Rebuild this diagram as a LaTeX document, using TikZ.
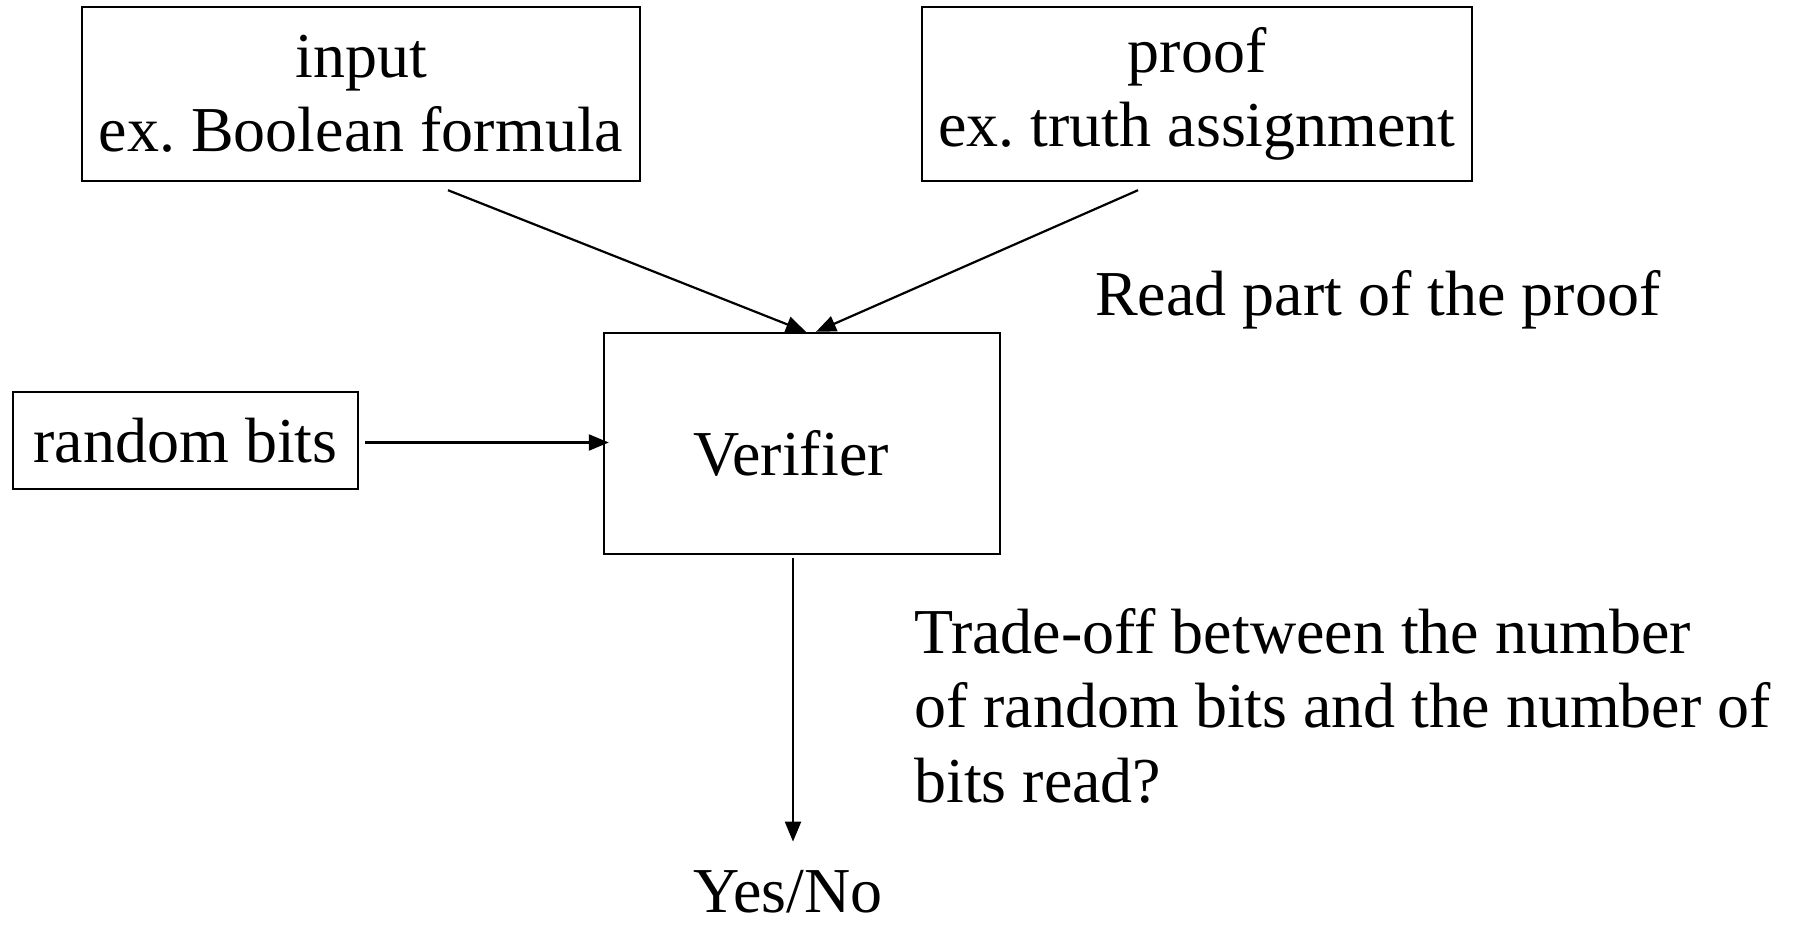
\documentclass[tikz,border=0pt]{standalone}
\usepackage{fontspec}
\setmainfont{Liberation Serif}
\usetikzlibrary{arrows.meta}
\frenchspacing
\begin{document}
\begin{tikzpicture}[x=1pt,y=-1pt,
  box/.style={draw, line width=2.4pt, inner sep=0pt, align=center, font=\fontsize{64}{74.5}\selectfont},
  txt/.style={inner sep=0pt, font=\fontsize{64}{74.5}\selectfont},
  arr/.style={line width=2.2pt, -{Triangle[length=20pt,width=16pt]}}]
\useasboundingbox (0,0) rectangle (1794,927);
\node[box, minimum width=558pt, minimum height=174pt] (inp) at (361,94) {input\\ex. Boolean formula};
\node[box, minimum width=550pt, minimum height=174pt] (prf) at (1197,94) {proof\\ex. truth assignment};
\node[box, minimum width=396pt, minimum height=221pt, text height=64pt, text depth=0pt] (ver) at (802,443.5) {Verifier\hspace*{22pt}};
\node[box, minimum width=345pt, minimum height=97pt] (rnd) at (185.5,440.5) {random bits};
\node[txt, anchor=base] (yn) at (788,912) {Yes/No};
\node[txt, anchor=base west] (rp) at (1095,315) {Read part of the proof};
\node[txt, anchor=north west, align=left] (tr) at (914,608) {Trade-off between the number\\of random bits and the number of\\bits read?};
\draw[arr] ([xshift=87pt,yshift=-8pt]inp.south) -- ([xshift=4pt]ver.north);
\draw[arr] ([xshift=-59pt,yshift=-8pt]prf.south) -- ([xshift=14pt]ver.north);
\draw[arr] ([xshift=6pt,yshift=-2pt]rnd.east) -- ([xshift=6pt,yshift=-2pt]rnd.east -| ver.west);
\draw[arr, shorten >=28pt] ([xshift=-9pt,yshift=-3pt]ver.south) -- ([xshift=-9pt]ver.south |- yn.north);
\end{tikzpicture}
\end{document}
